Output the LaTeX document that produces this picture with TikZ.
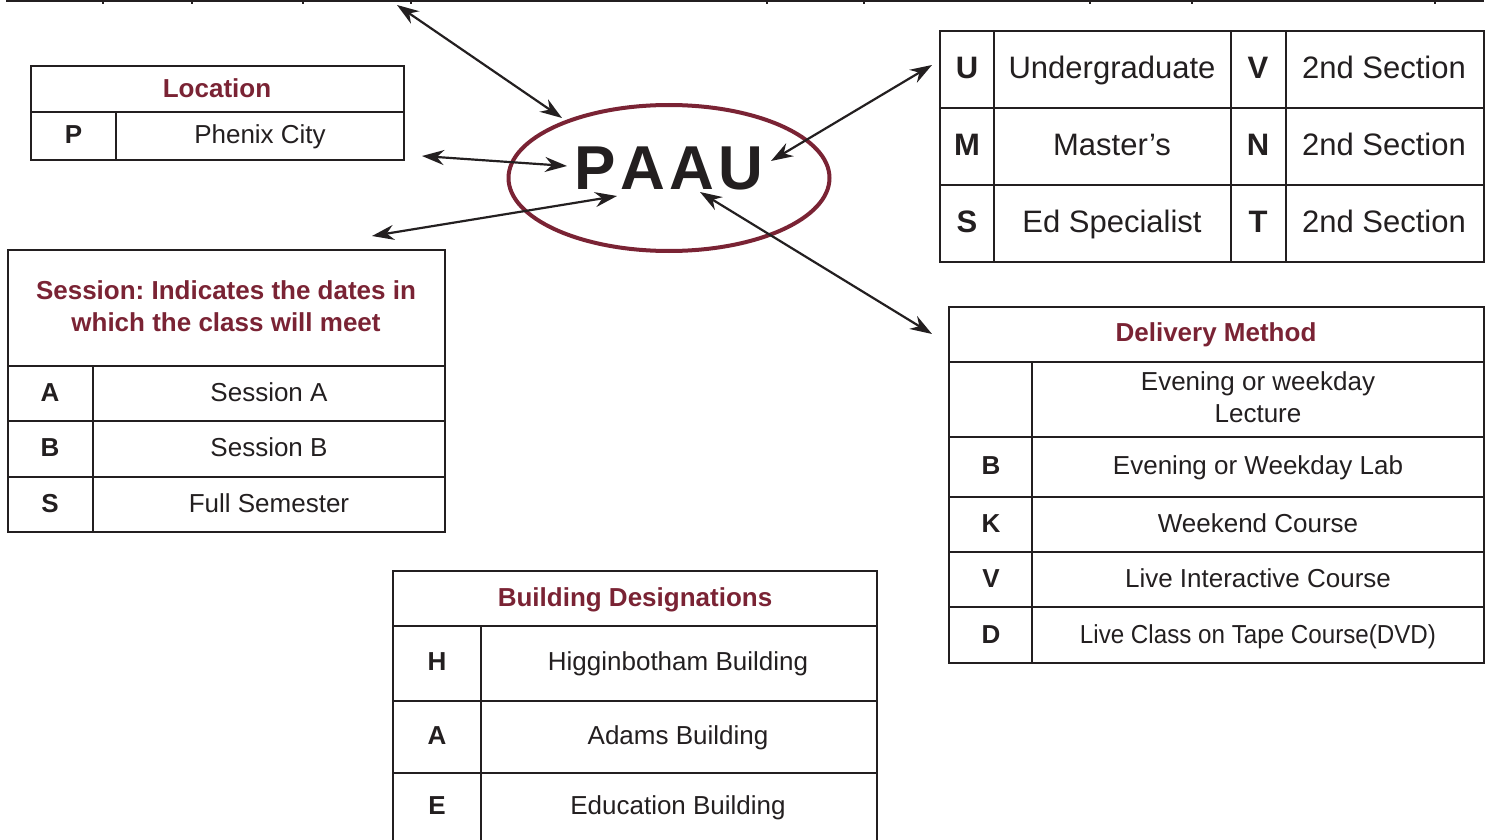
\documentclass[tikz,border=0pt]{standalone}
\usepackage{fontspec}
\setmainfont{Liberation Sans}
\usetikzlibrary{arrows.meta}
\usetikzlibrary{shapes.geometric}
\definecolor{maroon}{RGB}{122,35,52}
\definecolor{ink}{RGB}{35,31,32}
\frenchspacing

\tikzset{
  grid/.style={ink, line width=2.5pt},
  head/.style={maroon, font=\fontsize{26}{32}\selectfont\bfseries, align=center, text height=18.6pt, text depth=0pt, inner sep=0pt},
  key/.style={ink, font=\fontsize{26}{32}\selectfont\bfseries, text height=18.6pt, text depth=0pt, inner sep=0pt},
  txt/.style={ink, font=\fontsize{26}{32}\selectfont, align=center, text height=18.6pt, text depth=0pt, inner sep=0pt},
  bigkey/.style={ink, font=\fontsize{31}{37}\selectfont\bfseries, text height=22.2pt, text depth=0pt, inner sep=0pt},
  bigtxt/.style={ink, font=\fontsize{31}{37}\selectfont, text height=22.2pt, text depth=0pt, inner sep=0pt},
  link/.style={ink, line width=2.2pt, {Stealth[length=22pt,width=15pt]}-{Stealth[length=22pt,width=15pt]}},
}

\begin{document}
\begin{tikzpicture}[x=1pt,y=-1pt]
    \useasboundingbox (0,0) rectangle (1494,840);

    % edge of the table cut off above
    \draw[grid] (6,1) -- (1484,1);
    \foreach \x in {103,192,303,411,767,864,1090,1192,1435}
        \draw[grid, line width=1.5pt] (\x,0) -- (\x,4);

    % hub
    \node[ellipse, draw=maroon, line width=4pt, minimum width=321, minimum height=146] (hub) at (669,178) {};
    \node[ink, font=\fontsize{62}{70}\selectfont\bfseries, inner sep=0pt, text height=45pt, text depth=0pt] (paau) at (669,167) {P\hspace{4.5pt}A\hspace{4.5pt}A\hspace{4.5pt}U};

    % Location
    \draw[grid] (31,66) rectangle (404,160);
    \draw[grid] (31,112) -- (404,112);
    \draw[grid] (116,112) -- (116,160);
    \node[head] (locT) at (217,88) {Location};
    \node[key] (locP) at (73.5,134) {P};
    \node[txt] (locPtx) at (260,134) {Phenix City};

    % Session
    \draw[grid] (8,250) rectangle (445,532);
    \foreach \y in {366,421,477}
        \draw[grid] (8,\y) -- (445,\y);
    \draw[grid] (93,366) -- (93,532);
    \node[head] (sesT) at (226,322) {Session: Indicates the dates in\\which the class will meet};
    \node[key] (sesA) at (50,392) {A};
    \node[txt] (sesAtx) at (269,392) {Session A};
    \node[key] (sesB) at (50,447) {B};
    \node[txt] (sesBtx) at (269,447) {Session B};
    \node[key] (sesS) at (50,503) {S};
    \node[txt] (sesStx) at (269,503) {Full Semester};

    % Building Designations
    \draw[grid] (393,845) -- (393,571) -- (877,571) -- (877,845);
    \foreach \y in {626,701,773}
        \draw[grid] (393,\y) -- (877,\y);
    \draw[grid] (481,626) -- (481,845);
    \node[head] (bldT) at (635,597) {Building Designations};
    \node[key] (bldH) at (437,661) {H};
    \node[txt] (bldHtx) at (678,661) {Higginbotham Building};
    \node[key] (bldA) at (437,735) {A};
    \node[txt] (bldAtx) at (678,735) {Adams Building};
    \node[key] (bldE) at (437,805) {E};
    \node[txt] (bldEtx) at (678,805) {Education Building};

    % Degree level
    \draw[grid] (940,31) rectangle (1484,262);
    \foreach \y in {108,185}
        \draw[grid] (940,\y) -- (1484,\y);
    \foreach \x in {994,1231,1286}
        \draw[grid] (\x,31) -- (\x,262);
    \node[bigkey] (degU) at (967,67) {U};
    \node[bigtxt] (degUtx) at (1112,67) {Undergraduate};
    \node[bigkey] (degV) at (1258,67) {V};
    \node[bigtxt] (degVtx) at (1384,67) {2nd Section};
    \node[bigkey] (degM) at (967,144) {M};
    \node[bigtxt] (degMtx) at (1112,144) {Master’s};
    \node[bigkey] (degN) at (1258,144) {N};
    \node[bigtxt] (degNtx) at (1384,144) {2nd Section};
    \node[bigkey] (degS) at (967,221) {S};
    \node[bigtxt] (degStx) at (1112,221) {Ed Specialist};
    \node[bigkey] (degT) at (1258,221) {T};
    \node[bigtxt] (degTtx) at (1384,221) {2nd Section};

    % Delivery Method
    \draw[grid] (949,307) rectangle (1484,663);
    \foreach \y in {362,437,497,552,607}
        \draw[grid] (949,\y) -- (1484,\y);
    \draw[grid] (1032,362) -- (1032,663);
    \node[head] (delT) at (1216,332) {Delivery Method};
    \node[txt] (delLtx) at (1258,413) {Evening or weekday\\Lecture};
    \node[key] (delB) at (991,465) {B};
    \node[txt] (delBtx) at (1258,465) {Evening or Weekday Lab};
    \node[key] (delK) at (991,523) {K};
    \node[txt] (delKtx) at (1258,523) {Weekend Course};
    \node[key] (delV) at (991,578) {V};
    \node[txt] (delVtx) at (1258,578) {Live Interactive Course};
    \node[key] (delD) at (991,634) {D};
    \node[txt] (delDtx) at (1258,634) {\scalebox{0.93}[1]{Live Class on Tape Course(DVD)}};

    % arrows to the hub
    \coordinate (upEnd) at (397,5);
    \coordinate (upHub) at (562,118);
    \coordinate (locEnd) at (422,156);
    \coordinate (locHub) at (567,166);
    \coordinate (sesEnd) at (372,236);
    \coordinate (sesHub) at (617,196);
    \coordinate (degEnd) at (932,65);
    \coordinate (degHub) at (771,161);
    \coordinate (delEnd) at (932,334);
    \coordinate (delHub) at (700,192);
    \draw[link] (upEnd) -- (upHub);
    \draw[link] (locEnd) -- (locHub);
    \draw[link] (sesEnd) -- (sesHub);
    \draw[link] (degEnd) -- (degHub);
    \draw[link] (delEnd) -- (delHub);

\end{tikzpicture}
\end{document}
